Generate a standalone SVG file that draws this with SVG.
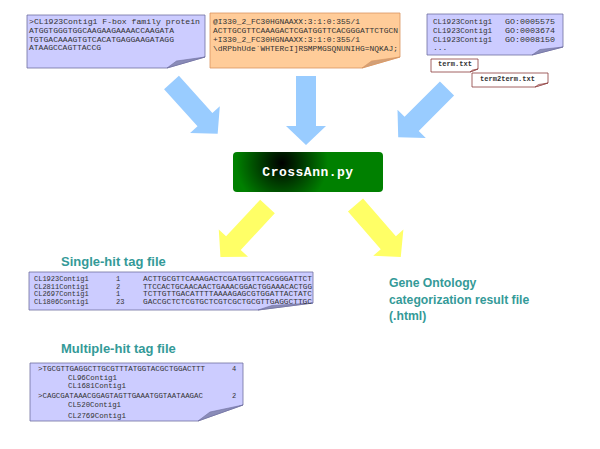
<svg xmlns="http://www.w3.org/2000/svg" xmlns:xlink="http://www.w3.org/1999/xlink" width="600" height="449" viewBox="0 0 600 449">
<defs>
<style>
.mono{font-family:"Liberation Mono","DejaVu Sans Mono",monospace;fill:#333;}
.t8{font-size:8px;}
.t7{font-size:7px;}
.head{font-family:"Liberation Sans",Arial,sans-serif;font-weight:bold;fill:#349a98;font-size:13px;}
.go{font-size:12.2px;}
.lav{fill:#ccccff;stroke:#6f6f9f;stroke-width:0.8;}
.lavf{fill:#8a8cb8;stroke:#6f6f9f;stroke-width:0.6;}
.org{fill:#ffcc99;stroke:#d9955f;stroke-width:0.8;}
.orgf{fill:#d2a078;stroke:#d9955f;stroke-width:0.6;}
.wht{fill:#ffffff;stroke:#8b3a3a;stroke-width:0.8;}
.whtf{fill:#d8b0b0;stroke:#8b3a3a;stroke-width:0.6;}
.blue{fill:#99ccff;}
.yel{fill:#ffff66;}
</style>
<path id="arr" d="M0,-10 L50,-10 L50,-20 L69,0 L50,20 L50,10 L0,10 Z"/>
<radialGradient id="gr" gradientUnits="userSpaceOnUse" cx="282" cy="163" r="46">
<stop offset="0" stop-color="#000000"/>
<stop offset="1" stop-color="#008000"/>
</radialGradient>
</defs>
<rect width="600" height="449" fill="#ffffff"/>

<g id="connectors">
<use xlink:href="#arr" class="blue" transform="translate(171.5,82.5) rotate(48)"/>
<use xlink:href="#arr" class="blue" transform="translate(306,76) rotate(90)"/>
<use xlink:href="#arr" class="blue" transform="translate(447,88.5) rotate(135)"/>
<use xlink:href="#arr" class="yel" transform="translate(267.5,206.5) rotate(133)"/>
<use xlink:href="#arr" class="yel" transform="translate(355.5,205) rotate(49)"/>
</g>

<g id="fasta">
<path class="lav" d="M27,15 H205 V57 L167,68 H27 Z"/>
<path class="lavf" d="M167,68 L176.5,61 L205,57 Z"/>
<text class="mono t8" x="29" y="24" textLength="171" lengthAdjust="spacingAndGlyphs">&gt;CL1923Contig1 F-box family protein</text>
<text class="mono t8" x="29" y="33" textLength="145" lengthAdjust="spacingAndGlyphs">ATGGTGGGTGGCAAGAAGAAAACCAAGATA</text>
<text class="mono t8" x="29" y="41.5" textLength="145" lengthAdjust="spacingAndGlyphs">TGTGACAAAGTGTCACATGAGGAAGATAGG</text>
<text class="mono t8" x="29" y="49.5" textLength="72" lengthAdjust="spacingAndGlyphs">ATAAGCCAGTTACCG</text>
</g>

<g id="fastq">
<path class="org" d="M210,13 H400 V57 L362,68 H210 Z"/>
<path class="orgf" d="M362,68 L371.5,61 L400,57 Z"/>
<text class="mono t8" x="213" y="23.5" textLength="147" lengthAdjust="spacingAndGlyphs">@I330_2_FC30HGNAAXX:3:1:0:355/1</text>
<text class="mono t8" x="213" y="32.5" textLength="185" lengthAdjust="spacingAndGlyphs">ACTTGCGTTCAAAGACTCGATGGTTCACGGGATTCTGCN</text>
<text class="mono t8" x="213" y="41.5" textLength="147" lengthAdjust="spacingAndGlyphs">+I330_2_FC30HGNAAXX:3:1:0:355/1</text>
<text class="mono t8" x="213" y="50.5" textLength="185" lengthAdjust="spacingAndGlyphs">\dRPbhUde`WHTERcI]RSMPMGSQNUNIHG=NQKAJ;</text>
</g>

<g id="go-annot">
<path class="lav" d="M427,14 H563 V47 L532,55 H427 Z"/>
<path class="lavf" d="M532,55 L540,49.5 L563,47 Z"/>
<text class="mono t8" x="433" y="23.5" textLength="59" lengthAdjust="spacingAndGlyphs">CL1923Contig1</text>
<text class="mono t8" x="505" y="23.5" textLength="50" lengthAdjust="spacingAndGlyphs">GO:0005575</text>
<text class="mono t8" x="433" y="32.5" textLength="59" lengthAdjust="spacingAndGlyphs">CL1923Contig1</text>
<text class="mono t8" x="505" y="32.5" textLength="50" lengthAdjust="spacingAndGlyphs">GO:0003674</text>
<text class="mono t8" x="433" y="41.5" textLength="59" lengthAdjust="spacingAndGlyphs">CL1923Contig1</text>
<text class="mono t8" x="505" y="41.5" textLength="50" lengthAdjust="spacingAndGlyphs">GO:0008150</text>
<text class="mono t8" x="433" y="50">...</text>
</g>

<g id="term">
<path class="wht" d="M431,59 H478 V69 L470,72 H431 Z"/>
<path class="whtf" d="M470,72 L472.5,70 L478,69 Z"/>
<text class="mono t7" x="438" y="66" font-weight="bold" textLength="34" lengthAdjust="spacingAndGlyphs">term.txt</text>
</g>

<g id="term2term">
<path class="wht" d="M472,73 H548 V83 L535,87 H472 Z"/>
<path class="whtf" d="M535,87 L538.5,84.5 L548,83 Z"/>
<text class="mono t7" x="480" y="80.5" font-weight="bold" textLength="55" lengthAdjust="spacingAndGlyphs">term2term.txt</text>
</g>

<g id="crossann">
<rect x="233" y="152" width="150" height="40" rx="4" fill="url(#gr)"/>
<text x="308" y="176" text-anchor="middle" font-family="'Liberation Mono','DejaVu Sans Mono',monospace" font-weight="bold" font-size="13" letter-spacing="0.5" fill="#ffffff">CrossAnn.py</text>
</g>

<g id="single-hit">
<text class="head" x="61" y="266">Single-hit tag file</text>
<path class="lav" d="M29,272 H313 V303 L258,310 H29 Z"/>
<path class="lavf" d="M258,310 L272,305.5 L313,303 Z"/>
<text class="mono t7" x="34" y="281">CL1923Contig1</text>
<text class="mono t7" x="116" y="281">1</text>
<text class="mono t7" x="143" y="281" textLength="169" lengthAdjust="spacingAndGlyphs">ACTTGCGTTCAAAGACTCGATGGTTCACGGGATTCT</text>
<text class="mono t7" x="34" y="288.5">CL2811Contig1</text>
<text class="mono t7" x="116" y="288.5">2</text>
<text class="mono t7" x="143" y="288.5" textLength="169" lengthAdjust="spacingAndGlyphs">TTCCACTGCAACAACTGAAACGGACTGGAAACACTGG</text>
<text class="mono t7" x="34" y="296">CL2697Contig1</text>
<text class="mono t7" x="116" y="296">1</text>
<text class="mono t7" x="143" y="296" textLength="169" lengthAdjust="spacingAndGlyphs">TCTTGTTGACATTTTAAAAGAGCGTGGATTACTATC</text>
<text class="mono t7" x="34" y="303.5">CL1806Contig1</text>
<text class="mono t7" x="116" y="303.5">23</text>
<text class="mono t7" x="143" y="303.5" textLength="169" lengthAdjust="spacingAndGlyphs">GACCGCTCTCGTGCTCGTCGCTGCGTTGAGGCTTGC</text>
</g>

<g id="go-result">
<text class="head go" x="389" y="287">Gene Ontology</text>
<text class="head go" x="389" y="303.5">categorization result file</text>
<text class="head go" x="389" y="320">(.html)</text>
</g>

<g id="multiple-hit">
<text class="head" x="61" y="353">Multiple-hit tag file</text>
<path class="lav" d="M30,363 H243 V405 L198,421 H30 Z"/>
<path class="lavf" d="M198,421 L210,412 L243,405 Z"/>
<text class="mono t7" x="38" y="371" textLength="167" lengthAdjust="spacingAndGlyphs">&gt;TGCGTTGAGGCTTGCGTTTATGGTACGCTGGACTTT</text>
<text class="mono t7" x="232" y="371">4</text>
<text class="mono t7" x="68" y="379.5" textLength="49" lengthAdjust="spacingAndGlyphs">CL96Contig1</text>
<text class="mono t7" x="68" y="388" textLength="58" lengthAdjust="spacingAndGlyphs">CL1681Contig1</text>
<text class="mono t7" x="38" y="397.5" textLength="165" lengthAdjust="spacingAndGlyphs">&gt;CAGCGATAAACGGAGTAGTTGAAATGGTAATAAGAC</text>
<text class="mono t7" x="232" y="397.5">2</text>
<text class="mono t7" x="68" y="407" textLength="53" lengthAdjust="spacingAndGlyphs">CL520Contig1</text>
<text class="mono t7" x="68" y="417.5" textLength="58" lengthAdjust="spacingAndGlyphs">CL2769Contig1</text>
</g>
</svg>
